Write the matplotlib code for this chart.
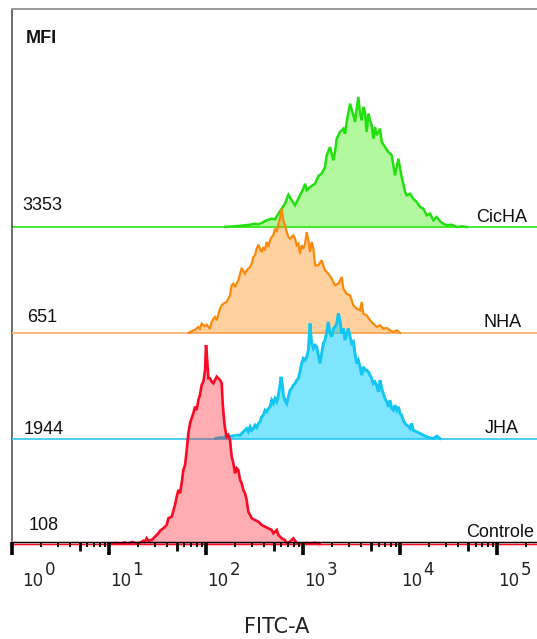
import numpy as np
import matplotlib
matplotlib.use('Agg')
import matplotlib.pyplot as plt
import matplotlib.transforms as mtransforms
from matplotlib.ticker import FixedLocator, NullFormatter

# histogram data: x in log10(FITC-A), y in counts
cic_log = [2.20, 2.333, 2.402, 2.454, 2.505, 2.540, 2.574, 2.625, 2.677, 2.711, 2.746, 2.780, 2.814, 2.849,
           2.883, 2.918, 2.935, 2.969, 3.003, 3.021, 3.038, 3.072, 3.124, 3.158, 3.192, 3.227, 3.244, 3.278,
           3.296, 3.313, 3.330, 3.347, 3.381, 3.416, 3.433, 3.450, 3.485, 3.519, 3.536, 3.553, 3.570, 3.588,
           3.605, 3.622, 3.639, 3.656, 3.674, 3.691, 3.708, 3.725, 3.742, 3.759, 3.794, 3.811, 3.845, 3.880,
           3.914, 3.948, 3.983, 4.017, 4.052, 4.069, 4.103, 4.137, 4.172, 4.206, 4.241, 4.275, 4.309, 4.344,
           4.378, 4.412, 4.447, 4.481, 4.533, 4.584, 4.636, 4.687]
cic_cnt = [0, 1, 1.7, 2.3, 3.3, 2.7, 4, 6.7, 8.3, 7.7, 13.3, 18.3, 23.3, 32.3,
           26.7, 21.7, 25, 31.7, 38.3, 43.3, 36.7, 40, 43.3, 51, 53.3, 60, 71.7, 80,
           73.3, 66.7, 75, 88.3, 95, 98.3, 93.3, 105, 123.3, 111.7, 105, 118.3, 130, 113.3,
           106.7, 120, 115, 95, 113.3, 106.7, 101.7, 88.3, 100, 91.7, 98.3, 85, 80, 75,
           71.7, 51.7, 68.3, 50, 35, 31.7, 33.3, 28.3, 25, 20, 18.3, 11.7, 13.3, 6.7,
           10, 5.7, 3.3, 1.7, 2.3, 0, 0.7, 0]

nha_log = [1.82, 1.852, 1.887, 1.921, 1.938, 1.955, 1.990, 2.007, 2.041, 2.058, 2.076, 2.093, 2.110, 2.144,
           2.162, 2.179, 2.213, 2.247, 2.265, 2.282, 2.299, 2.333, 2.368, 2.402, 2.419, 2.454, 2.471, 2.488,
           2.505, 2.522, 2.540, 2.557, 2.574, 2.591, 2.608, 2.625, 2.643, 2.660, 2.677, 2.694, 2.711, 2.729,
           2.746, 2.763, 2.780, 2.797, 2.814, 2.832, 2.849, 2.866, 2.900, 2.918, 2.935, 2.952, 2.969, 2.986,
           3.003, 3.021, 3.038, 3.055, 3.072, 3.089, 3.107, 3.124, 3.158, 3.192, 3.227, 3.261, 3.296, 3.330,
           3.364, 3.399, 3.416, 3.450, 3.485, 3.519, 3.553, 3.588, 3.605, 3.622, 3.656, 3.691, 3.725, 3.759,
           3.794, 3.828, 3.863, 3.897, 3.931, 3.966, 4.000]
nha_cnt = [0, 1.7, 3.3, 6, 4.3, 9.3, 6.7, 8.3, 4.3, 11, 14.3, 16, 12.7, 24.3,
           27.7, 29.3, 31, 37.7, 47.7, 49.3, 46, 52.7, 65, 59.3, 62.7, 66, 69.3, 76,
           77.7, 84.3, 88.3, 84.3, 81, 86, 82.7, 91, 86, 92.7, 96, 97.7, 104.3, 101,
           109.3, 114.3, 124.3, 112.7, 107.7, 101, 96, 94.3, 97.7, 94.3, 87.7, 89.3, 79.3, 87.7,
           84.3, 89.3, 101, 92.7, 81, 91, 84.3, 67.7, 67.7, 72.7, 62.7, 59.3, 54.3, 47.7,
           49.3, 56, 44.3, 39.3, 37.7, 27.7, 24.3, 22.7, 31, 19.3, 17.7, 12.7, 9.3, 6,
           7.7, 4.3, 5, 2.7, 1, 2.7, 0]

jha_log = [2.10, 2.15, 2.18, 2.20, 2.23, 2.27, 2.316, 2.351, 2.385, 2.419, 2.436, 2.454, 2.471, 2.488,
           2.505, 2.522, 2.540, 2.557, 2.574, 2.591, 2.608, 2.625, 2.643, 2.660, 2.677, 2.694, 2.711, 2.729,
           2.746, 2.763, 2.773, 2.790, 2.797, 2.814, 2.832, 2.849, 2.866, 2.883, 2.900, 2.918, 2.935, 2.952,
           2.969, 2.986, 3.003, 3.021, 3.038, 3.055, 3.072, 3.089, 3.107, 3.124, 3.141, 3.158, 3.175, 3.192,
           3.210, 3.227, 3.244, 3.261, 3.278, 3.296, 3.313, 3.330, 3.347, 3.364, 3.381, 3.399, 3.416, 3.433,
           3.450, 3.467, 3.485, 3.502, 3.519, 3.536, 3.553, 3.570, 3.588, 3.605, 3.622, 3.639, 3.656, 3.674,
           3.691, 3.708, 3.725, 3.742, 3.759, 3.777, 3.794, 3.811, 3.828, 3.845, 3.863, 3.880, 3.897, 3.914,
           3.931, 3.948, 3.966, 3.983, 4.000, 4.017, 4.034, 4.052, 4.069, 4.086, 4.103, 4.120, 4.137, 4.172,
           4.206, 4.241, 4.275, 4.309, 4.344, 4.378, 4.412]
jha_cnt = [0, 1, 0.5, 2, 1.5, 2.5, 3.3, 3.3, 6.7, 10, 6.7, 11.7, 8.3, 10,
           13.3, 11, 15, 16.7, 21.7, 23.3, 28.3, 26.7, 30, 31.7, 38.3, 35, 40, 36.7,
           43.3, 53.3, 61.7, 51.7, 43.3, 38.3, 35, 41.7, 48.3, 50, 53.3, 55, 58.3, 60,
           66.7, 75, 80, 78.3, 81.7, 88.3, 115, 95, 90, 93.3, 91.7, 83.3, 75, 85,
           95, 98.3, 106.7, 116.7, 105, 101.7, 110, 111.7, 115, 125, 118.3, 105, 110, 98.3,
           105, 110, 101.7, 95, 96.7, 85, 75, 78.3, 71.7, 63.3, 71.7, 68.3, 68.3, 66.7,
           63.3, 60, 55, 56.7, 53.3, 46.7, 58.3, 50, 45, 40, 36.7, 31.7, 38.3, 30,
           28.3, 33.3, 28.3, 31.7, 25, 23.3, 18.3, 15, 13.3, 12.3, 10, 15, 8.3, 6.7,
           5, 3.3, 1.7, 0.7, 0, 2.3, 0]

ctrl_log = [1.00, 1.08, 1.12, 1.16, 1.20, 1.24, 1.28, 1.320, 1.354, 1.371, 1.388, 1.405, 1.440, 1.474,
            1.509, 1.526, 1.560, 1.595, 1.612, 1.646, 1.680, 1.698, 1.715, 1.732, 1.749, 1.766, 1.784, 1.801,
            1.818, 1.835, 1.852, 1.869, 1.887, 1.904, 1.921, 1.938, 1.955, 1.973, 1.990, 2.000, 2.010, 2.024,
            2.041, 2.058, 2.076, 2.093, 2.110, 2.127, 2.144, 2.162, 2.172, 2.186, 2.196, 2.213, 2.230, 2.247,
            2.265, 2.282, 2.299, 2.316, 2.333, 2.351, 2.368, 2.385, 2.402, 2.419, 2.436, 2.454, 2.471, 2.505,
            2.540, 2.574, 2.608, 2.643, 2.677, 2.694, 2.711, 2.729, 2.746, 2.780, 2.814, 2.832, 2.866, 2.900,
            2.935, 2.969, 3.03, 3.08, 3.12, 3.17]
ctrl_cnt = [0, 1, 0.3, 1.5, 0.5, 2, 0.8, 1.3, 3.3, 2.3, 5.7, 3.3, 4, 7.3,
            10.7, 13.3, 15.7, 19, 25.7, 27.3, 39, 47.3, 54, 50.7, 60.7, 74, 79, 94,
            110.7, 120.7, 125.7, 130.7, 137.3, 134, 144, 149, 159, 162.3, 174, 199, 187.3, 165.7,
            165.7, 162.3, 160.7, 164, 167.3, 165.7, 164, 160.7, 140.7, 124, 115.7, 107.3, 109, 104,
            87.3, 80.7, 70.7, 75.7, 74, 64, 60.7, 54, 50.7, 44, 32.3, 29, 25.7, 24,
            22.3, 19, 17.3, 15.7, 14, 10.7, 12.3, 14, 9, 5.7, 4, 0.7, 2.3, 5.7,
            1, 0, 1, 0.3, 1.2, 0]

names = ['CicHA', 'NHA', 'JHA', 'Controle']
mfi = ['3353', '651', '1944', '108']
decades = [0, 1, 2, 3, 4, 5]

# styling / layout
line_col = ['#22e010', '#fb8a0c', '#12c6f2', '#fa0a24']
fill_col = ['#33ee00', '#ff8800', '#00ccff', '#ff1a2e']
fill_alpha = [0.38, 0.38, 0.5, 0.36]
base_col = ['#3be82a', '#f9b274', '#3ccaf2', '#fa0a24']
line_w = [1.8, 1.6, 2.1, 1.9]
offsets = [317, 211, 105.5, 0]
mfi_pos = [(0.0204, 0.622), (0.0291, 0.4125), (0.0215, 0.2017), (0.031, 0.0216)]
name_pos = [(0.8838, 0.600), (0.8977, 0.402), (0.8996, 0.203), (0.8648, 0.009)]
label_font = ['Liberation Sans', 'DejaVu Sans']

fig = plt.figure(figsize=(5.37, 6.39), dpi=100)
ax = fig.add_axes([12/537, 97.5/639, 525/537, 532.9/639])
ax.set_xscale('log')
ax.set_xlim(1, 10**5.412)
ax.set_ylim(2.5, 535.4)

curves = [(cic_log, cic_cnt), (nha_log, nha_cnt), (jha_log, jha_cnt), (ctrl_log, ctrl_cnt)]
for i, (lg, cnt) in enumerate(curves):
    x = 10 ** np.array(lg)
    y = offsets[i] + np.array(cnt)
    clip = i != 3
    z = 2 + i
    if i == 3:
        ax.axhline(offsets[i], color='#fbc3c7', lw=3.2, zorder=z, clip_on=False)
        ax.axhline(offsets[i], color=base_col[i], lw=0.8, zorder=z, clip_on=False)
    else:
        ax.axhline(offsets[i], color=base_col[i], lw=1.3, zorder=z)
    ax.fill_between(x, offsets[i], y, color=fill_col[i], alpha=fill_alpha[i], lw=0,
                    zorder=z, clip_on=clip)
    ax.plot(x, y, color=line_col[i], lw=line_w[i], zorder=z + 0.1, clip_on=clip,
            solid_joinstyle='miter')
    ax.text(*mfi_pos[i], mfi[i], transform=ax.transAxes, fontsize=13, family=label_font,
            va='baseline', ha='left', color='#111111', zorder=10)
    ax.text(*name_pos[i], names[i], transform=ax.transAxes, fontsize=13, family=label_font,
            va='baseline', ha='left', color='#111111', zorder=10)

ax.text(0.0261, 0.9358, 'MFI', transform=ax.transAxes, fontsize=13, fontweight='bold',
        family=label_font, va='baseline', ha='left', color='#111111')

# spines
ax.spines['right'].set_visible(False)
ax.spines['left'].set_color('#444444')
ax.spines['left'].set_linewidth(1.1)
ax.spines['top'].set_color('#9a9a9a')
ax.spines['top'].set_linewidth(1.4)
ax.spines['bottom'].set_color('black')
ax.spines['bottom'].set_linewidth(1.0)
ax.spines['bottom'].set_zorder(8)

# log ticks, cytometry style
ax.xaxis.set_major_locator(FixedLocator([10.0 ** d for d in decades]))
minor_locs = [s * 10.0 ** d for d in decades[:-1] for s in (2, 3, 4, 5, 6, 7, 8, 9)]
minor_locs += [s * 10.0 ** 5 for s in (2, 3)]
ax.xaxis.set_minor_locator(FixedLocator(minor_locs))
ax.xaxis.set_major_formatter(NullFormatter())
ax.xaxis.set_minor_formatter(NullFormatter())
ax.yaxis.set_visible(False)
ax.xaxis.set_zorder(9)
ax.tick_params(axis='x', which='major', direction='out', length=9.5, width=2.6, color='black')
ax.tick_params(axis='x', which='minor', direction='out', length=3.8, width=1.3, color='black')
for loc, tick in zip(minor_locs, ax.xaxis.get_minor_ticks(len(minor_locs))):
    if round(loc / 10 ** np.floor(np.log10(loc))) == 5:
        tick.tick1line.set_markersize(6.5)
        tick.tick1line.set_markeredgewidth(2.0)

# decade labels: "10" with a full-size raised exponent
trans = mtransforms.blended_transform_factory(ax.transData, ax.transAxes)
for d in decades:
    dx = 10.5 if d == 0 else 1.0
    t1 = trans + mtransforms.ScaledTranslation(dx / 100, 0, fig.dpi_scale_trans)
    t2 = trans + mtransforms.ScaledTranslation((dx + 22.5) / 100, 0, fig.dpi_scale_trans)
    ax.text(10.0 ** d, -0.0844, '10', transform=t1, fontsize=12, color='#222222',
            va='baseline', ha='left', clip_on=False)
    ax.text(10.0 ** d, -0.0625, str(d), transform=t2, fontsize=12, color='#222222',
            va='baseline', ha='left', clip_on=False)

ax.set_xlabel('FITC-A', fontsize=15, color='#222222', va='baseline')
ax.xaxis.set_label_coords(0.505, -0.172)

fig.savefig('out.png', dpi=100)
